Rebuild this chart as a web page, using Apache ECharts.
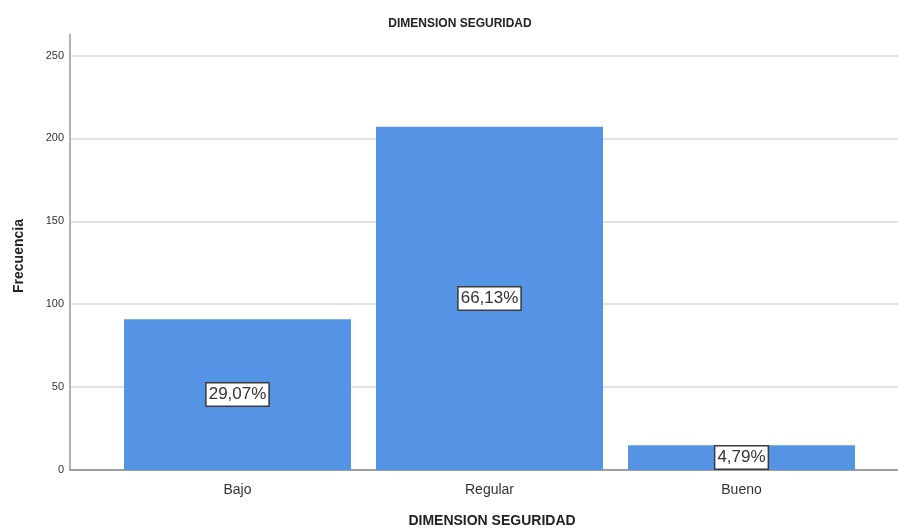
<!DOCTYPE html>
<html>
<head>
<meta charset="utf-8">
<script src="https://cdn.jsdelivr.net/npm/echarts@6/dist/echarts.min.js"></script>
<style>html,body{margin:0;padding:0;background:#fff}#c{width:898px;height:529px}</style>
</head>
<body>
<div id="c"></div>
<script>
const categories = ['Bajo', 'Regular', 'Bueno'];
const frequencies = [91, 207, 15];
const percentLabels = ['29,07%', '66,13%', '4,79%'];
const yTicks = [0, 50, 100, 150, 200, 250];

const chart = echarts.init(document.getElementById('c'), null, {renderer: 'canvas'});
const FONT = '"Liberation Sans", Arial, sans-serif';
const YMAX = 263;
chart.setOption({
  animation: false,
  backgroundColor: '#fff',
  title: {
    text: 'DIMENSION SEGURIDAD', left: 455, top: 13, textAlign: 'center',
    textStyle: {fontFamily: FONT, fontSize: 12, fontWeight: 'bold', color: '#222'}
  },
  grid: [
    {left: 70, right: 0, top: 34, bottom: 59, outerBoundsMode: 'none', containLabel: false},
    {left: 111.5, right: 30.5, top: 34, bottom: 59, outerBoundsMode: 'none', containLabel: false}
  ],
  xAxis: [
    {type: 'value', gridIndex: 0, min: 0, max: 1, show: true,
     axisLine: {show: true, onZero: false, lineStyle: {color: '#888', width: 1.5}},
     axisTick: {show: false}, axisLabel: {show: false}, splitLine: {show: false}},
    {type: 'category', gridIndex: 1, data: categories,
     axisLine: {show: false}, axisTick: {show: false},
     axisLabel: {fontFamily: FONT, fontSize: 14, color: '#333', margin: 13},
     name: 'DIMENSION SEGURIDAD', nameLocation: 'middle', nameGap: 44,
     nameTextStyle: {fontFamily: FONT, fontSize: 14, fontWeight: 'bold', color: '#222', padding: [0, 0, 0, 5]}}
  ],
  yAxis: [
    {type: 'value', gridIndex: 0, min: 0, max: YMAX, interval: 50,
     axisLine: {show: true, lineStyle: {color: '#999', width: 1.5}},
     axisTick: {show: false},
     axisLabel: {fontFamily: FONT, fontSize: 11, color: '#333', margin: 6, showMaxLabel: false,
       formatter: v => yTicks.includes(v) ? String(v) : ''},
     splitLine: {show: true, showMaxLine: false, lineStyle: {color: '#d9d9d9', width: 1.5}},
     name: 'Frecuencia', nameLocation: 'middle', nameGap: 44,
     nameTextStyle: {fontFamily: FONT, fontSize: 14, fontWeight: 'bold', color: '#222', padding: [0, 8, 0, 0]}},
    {type: 'value', gridIndex: 1, min: 0, max: YMAX, show: false}
  ],
  series: [{
    type: 'bar', xAxisIndex: 1, yAxisIndex: 1,
    data: frequencies, barWidth: 227,
    itemStyle: {color: '#5594E4'},
    label: {
      show: true, position: 'inside',
      formatter: p => percentLabels[p.dataIndex],
      fontFamily: FONT, fontSize: 17, lineHeight: 19, color: '#333',
      backgroundColor: '#fff', borderColor: '#3a3a3a', borderWidth: 1.5,
      padding: [2, 2, 1, 2]
    }
  }]
});
</script>
</body>
</html>
